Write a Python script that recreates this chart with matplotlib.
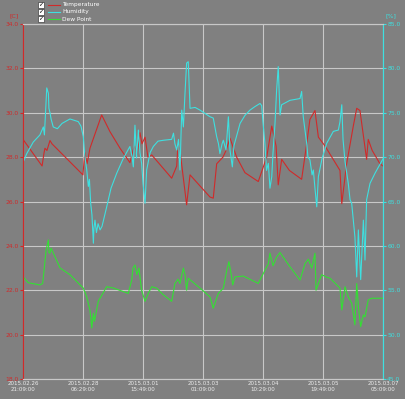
import matplotlib
matplotlib.use("Agg")
import matplotlib.pyplot as plt
from matplotlib.lines import Line2D
from matplotlib.patches import Rectangle

# time axis in hours from 2015.02.26 21:09:00 (200 h span)
tick_hours = [0, 33.33, 66.67, 100, 133.33, 166.67, 200]
tick_labels = ["2015.02.26\n21:09:00", "2015.02.28\n06:29:00", "2015.03.01\n15:49:00",
               "2015.03.03\n01:09:00", "2015.03.04\n10:29:00", "2015.03.05\n19:49:00",
               "2015.03.07\n05:09:00"]

# (hour, value) readings
temperature = [
    (0, 28.8), (10.6, 27.6), (11.7, 28.2), (12.2, 28.4), (13.3, 28.3), (15.0, 28.75),
    (16.1, 28.6), (33.3, 27.2), (33.9, 27.8), (34.4, 28.2), (35.6, 27.7), (37.2, 28.4),
    (43.7, 29.9), (48.3, 29.15), (53.9, 28.4), (59.4, 27.75), (61.1, 28.3), (62.2, 28.5),
    (63.3, 28.1), (65.0, 29.1), (66.1, 28.6), (67.8, 28.9), (69.4, 28.0), (71.5, 28.1),
    (82.6, 27.05), (84.4, 27.4), (85.4, 27.6), (86.1, 28.55), (87.2, 28.3), (90.9, 25.85),
    (92.8, 27.2), (103.9, 26.2), (105.7, 26.15), (107.6, 27.7), (111.1, 28.0),
    (112.8, 28.3), (115.0, 28.85), (118.7, 28.0), (123.3, 27.3), (130.7, 26.9),
    (135.4, 28.0), (138.2, 29.4), (140.6, 28.5), (141.8, 26.75), (143.7, 27.9),
    (148.0, 27.4), (154.8, 27.0), (157.6, 28.6), (159.4, 29.7), (162.2, 30.1),
    (164.1, 28.9), (167.8, 28.5), (176.1, 27.4), (177.1, 25.9), (179.8, 27.7),
    (183.5, 29.4), (185.4, 30.2), (187.2, 30.1), (190.9, 27.9), (191.8, 28.8),
    (194.0, 28.3), (198.3, 27.7), (200, 27.6),
]

humidity = [
    (0, 69.4), (2.1, 70.4), (5.7, 71.7), (9.4, 72.5), (11.3, 73.4), (11.9, 72.5),
    (13.2, 77.8), (14.1, 77.2), (14.4, 75.5), (15.0, 75.0), (15.6, 74.3), (16.8, 73.4),
    (19.1, 73.2), (21.7, 73.8), (26.1, 74.3), (30.7, 74.0), (32.2, 73.5), (33.5, 72.3),
    (34.4, 70.0), (35.4, 68.6), (36.3, 66.7), (36.9, 67.5), (37.6, 64.8), (38.3, 63.5),
    (39.1, 60.3), (39.4, 62.0), (40.0, 62.9), (40.8, 61.5), (41.7, 62.5), (42.8, 61.8),
    (43.9, 62.2), (46.5, 64.4), (48.9, 66.5), (52.1, 68.2), (55.6, 69.8), (59.4, 71.2),
    (60.6, 70.0), (61.3, 68.9), (62.2, 73.6), (63.1, 69.9), (64.1, 73.05), (65.0, 70.5),
    (65.9, 69.3), (66.7, 67.0), (67.8, 64.8), (68.7, 68.55), (70.6, 70.5), (72.4, 71.2),
    (75.0, 71.8), (78.0, 71.9), (82.6, 72.0), (83.6, 72.7), (84.4, 71.5), (85.4, 70.8),
    (86.4, 72.0), (87.2, 68.55), (88.2, 75.3), (89.1, 73.4), (90.0, 77.2), (90.9, 80.6),
    (91.8, 80.75), (92.8, 75.5), (95.6, 75.6), (98.3, 75.3), (103.9, 74.55),
    (105.7, 74.4), (107.6, 72.3), (108.6, 71.5), (109.4, 70.4), (110.6, 71.5),
    (111.3, 71.9), (112.8, 70.8), (114.1, 74.55), (115.0, 70.8), (116.3, 68.9),
    (117.2, 71.3), (120.6, 73.8), (123.3, 74.7), (126.1, 75.3), (128.9, 75.7),
    (131.7, 76.05), (132.6, 75.8), (133.3, 74.0), (134.4, 71.55), (135.3, 68.5),
    (136.3, 69.3), (137.2, 66.5), (138.2, 67.8), (138.9, 70.5), (140.0, 73.8),
    (140.9, 77.55), (141.8, 80.2), (142.8, 74.75), (143.7, 75.9), (148.3, 76.4),
    (153.9, 76.6), (154.8, 77.4), (155.7, 74.55), (157.6, 71.55), (158.3, 70.0),
    (159.4, 69.7), (160.6, 68.0), (161.3, 68.55), (162.2, 66.5), (163.2, 64.4),
    (164.1, 67.8), (166.1, 69.8), (168.7, 71.55), (172.4, 72.9), (175.2, 73.05),
    (176.1, 74.0), (177.1, 75.9), (177.8, 72.0), (178.9, 69.5), (180.7, 67.05),
    (181.7, 65.2), (182.6, 64.8), (183.5, 62.9), (184.4, 61.0), (185.4, 56.5),
    (186.3, 61.8), (187.6, 56.2), (189.1, 62.9), (190.0, 58.4), (190.9, 65.2),
    (192.8, 67.05), (195.6, 68.2), (200, 69.8),
]

dew_point = [
    (0, 22.61), (2.9, 22.34), (9.4, 22.24), (10.9, 22.3), (11.7, 22.9), (12.8, 23.8),
    (14.1, 24.27), (14.4, 23.7), (15.0, 23.67), (15.6, 23.9), (20.6, 23.0), (26.1, 22.7),
    (31.7, 22.24), (33.5, 22.1), (35.4, 21.7), (37.2, 21.1), (38.2, 20.3), (39.1, 20.96),
    (39.7, 20.6), (41.8, 21.5), (46.5, 22.16), (50.2, 22.1), (58.5, 21.86), (60.4, 22.46),
    (61.1, 23.0), (62.2, 23.14), (63.3, 22.7), (64.4, 23.0), (65.9, 22.0), (67.8, 21.5),
    (69.6, 21.86), (71.5, 22.16), (74.3, 22.09), (77.9, 21.8), (82.6, 21.5), (84.4, 22.3),
    (86.1, 22.5), (87.2, 22.3), (89.1, 23.0), (90.0, 22.7), (90.9, 22.0), (91.8, 22.54),
    (98.3, 22.1), (103.9, 21.7), (105.7, 21.19), (108.5, 21.86), (111.3, 22.09),
    (113.2, 22.9), (114.4, 23.29), (115.5, 22.8), (116.5, 22.24), (117.8, 22.6),
    (122.4, 22.64), (130.7, 22.31), (136.3, 23.2), (137.2, 23.67), (138.9, 23.1),
    (140.9, 23.5), (142.8, 23.7), (148.3, 23.06), (153.9, 22.46), (156.7, 23.2),
    (158.5, 23.4), (160.4, 23.0), (162.2, 23.67), (162.8, 22.0), (164.1, 22.3),
    (165.9, 22.7), (168.7, 22.59), (170.6, 22.54), (176.1, 22.1), (177.1, 21.11),
    (178.9, 22.16), (180.7, 21.7), (182.6, 21.41), (184.4, 20.44), (185.4, 22.3),
    (186.4, 21.2), (187.6, 20.36), (189.1, 20.89), (190.0, 20.8), (191.8, 21.56),
    (193.7, 21.64), (200, 21.64),
]

RED = "#d02a2a"
CYAN = "#3ee0e0"
GREEN = "#33e033"
BG = "#808080"
GRID = "#c8c8c8"

fig = plt.figure(figsize=(4.05, 3.99), dpi=100)
fig.patch.set_facecolor(BG)
ax = fig.add_axes([23 / 405, 20 / 399, 360 / 405, 355 / 399])
ax.set_facecolor(BG)
ax2 = ax.twinx()

t_h, t_v = zip(*temperature)
h_h, h_v = zip(*humidity)
d_h, d_v = zip(*dew_point)
ax.plot(t_h, t_v, color=RED, lw=0.8)
ax.plot(d_h, d_v, color=GREEN, lw=0.8)
ax2.plot(h_h, h_v, color=CYAN, lw=0.8)

ax.set_xlim(0, 200)
ax.set_ylim(18, 34)
ax2.set_ylim(45, 85)
ax.set_yticks([18, 20, 22, 24, 26, 28, 30, 32, 34])
ax2.set_yticks([45, 50, 55, 60, 65, 70, 75, 80, 85])
ax.yaxis.set_major_formatter(plt.FormatStrFormatter("%.1f"))
ax2.yaxis.set_major_formatter(plt.FormatStrFormatter("%.1f"))
ax.set_xticks(tick_hours)
ax.set_xticklabels(tick_labels, linespacing=1.15)
ax.grid(True, color=GRID, lw=0.8)
ax.set_axisbelow(True)

ax.tick_params(axis="y", colors=RED, labelsize=4.3, length=2.5, width=0.8, pad=0.5)
ax2.tick_params(axis="y", colors=CYAN, labelsize=4.3, length=2.5, width=0.8, pad=0.5)
ax.tick_params(axis="x", colors=GRID, labelcolor="#ececec", labelsize=4.0, length=0, pad=1.5)

for a in (ax, ax2):
    a.spines["top"].set_color(GRID)
    a.spines["bottom"].set_color(GRID)
    a.spines["left"].set_color(RED)
    a.spines["right"].set_color(CYAN)

fig.text(14 / 405, 1 - 16 / 399, "[C]", color=RED, fontsize=4.5, ha="center", va="center")
fig.text(391 / 405, 1 - 16 / 399, "[%]", color=CYAN, fontsize=4.5, ha="center", va="center")

# legend with check boxes
names = ["Temperature", "Humidity", "Dew Point"]
colors = [RED, CYAN, GREEN]
for i, (name, c) in enumerate(zip(names, colors)):
    yc = 4.5 + 7.3 * i
    fig.patches.append(Rectangle((38 / 405, 1 - (yc + 3) / 399), 6 / 405, 6 / 399,
                                 transform=fig.transFigure, facecolor="white",
                                 edgecolor="#404040", lw=0.5))
    fig.text(41 / 405, 1 - yc / 399, "\u2713", color="black", fontsize=4.5,
             ha="center", va="center", fontweight="bold")
    fig.lines.append(Line2D([48 / 405, 60 / 405], [1 - yc / 399, 1 - yc / 399],
                            transform=fig.transFigure, color=c, lw=0.8))
    fig.text(62 / 405, 1 - yc / 399, name, color="white", fontsize=4.2, va="center")

fig.savefig("out.png", dpi=100, facecolor=BG)
